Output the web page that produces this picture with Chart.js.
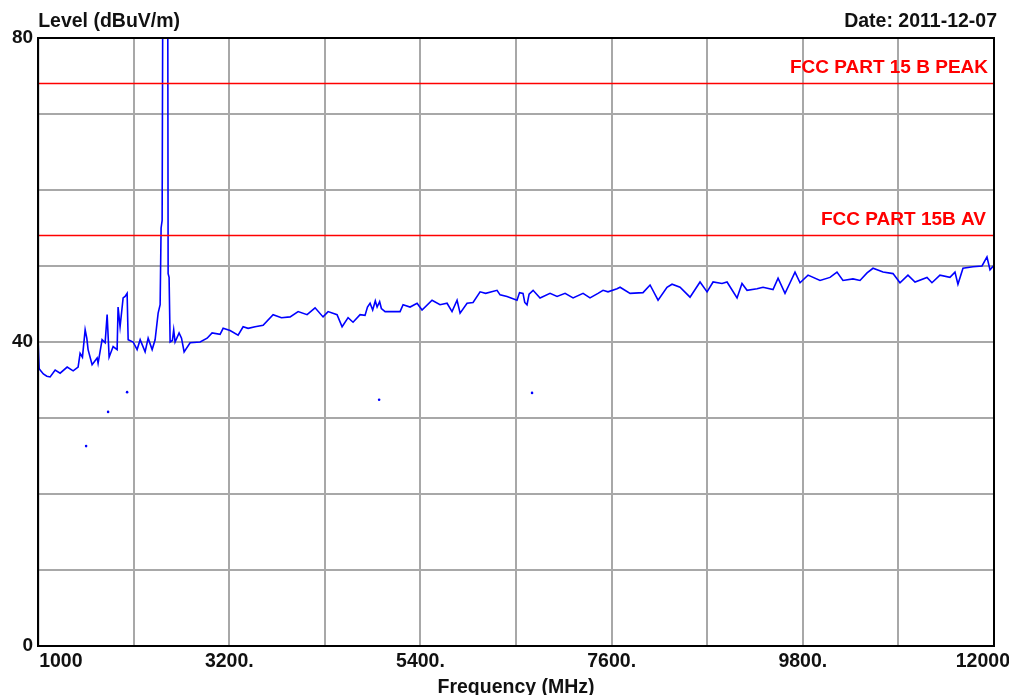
<!DOCTYPE html>
<html>
<head>
<meta charset="utf-8">
<script src="https://cdn.jsdelivr.net/npm/chart.js@4"></script>
<style>
	body { margin: 0; background: #fff; }
	#wrap { width: 1009px; height: 695px; }
</style>
</head>
<body>
<div id="wrap"><canvas id="emiChart" width="1009" height="695"></canvas></div>
<script>
// trace: frequency (MHz) and level (dBuV/m)
const freqMHz = [
	1000, 1012, 1023, 1060, 1100, 1138, 1196, 1253, 1334, 1403, 1460, 1483, 1510, 1541, 1560, 1575,
	1621, 1679, 1690, 1736, 1771, 1794, 1817, 1863, 1909, 1920, 1943, 1978, 2001, 2024, 2036, 2093,
	2139, 2174, 2231, 2266, 2312, 2346, 2381, 2404, 2415, 2427, 2438, 2490, 2496, 2507, 2519, 2545,
	2560, 2576, 2622, 2650, 2680, 2749, 2864, 2945, 3002, 3094, 3129, 3209, 3301, 3359, 3416, 3497,
	3589, 3704, 3800, 3900, 3992, 4095, 4187, 4279, 4337, 4440, 4498, 4567, 4624, 4705, 4762, 4790,
	4820, 4850, 4880, 4901, 4930, 4950, 4993, 5050, 5165, 5200, 5280, 5361, 5418, 5533, 5625, 5706,
	5763, 5821, 5856, 5936, 6005, 6086, 6150, 6281, 6316, 6396, 6511, 6540, 6580, 6600, 6626, 6650,
	6696, 6776, 6891, 6972, 7064, 7156, 7271, 7351, 7443, 7501, 7558, 7662, 7697, 7812, 7961, 8042,
	8134, 8237, 8295, 8387, 8502, 8617, 8698, 8767, 8870, 8928, 9043, 9100, 9158, 9273, 9342, 9457,
	9515, 9595, 9653, 9710, 9768, 9860, 9998, 10113, 10193, 10262, 10377, 10458, 10539, 10608, 10723, 10838,
	10918, 11010, 11091, 11229, 11286, 11378, 11493, 11551, 11585, 11643, 11758, 11862, 11919, 11954, 12000
];
const levelDb = [
	40.0, 36.5, 36.3, 35.8, 35.5, 35.4, 36.3, 35.9, 36.7, 36.2, 36.7, 38.5, 38.0, 41.6, 40.5, 39.0,
	37.0, 37.9, 37.2, 40.3, 39.9, 43.6, 38.0, 39.4, 39.0, 44.6, 42.0, 45.8, 46.0, 46.4, 40.3, 40.0,
	39.0, 40.3, 38.7, 40.5, 39.0, 40.3, 43.8, 44.9, 55.0, 56.0, 100, 100, 49.0, 48.5, 40.0, 40.2,
	41.6, 40.0, 41.2, 40.5, 38.7, 39.9, 40.0, 40.5, 41.2, 41.0, 41.8, 41.5, 40.9, 42.0, 41.8, 42.0,
	42.2, 43.6, 43.2, 43.3, 44.0, 43.6, 44.5, 43.3, 44.0, 43.6, 42.0, 43.2, 42.6, 43.6, 43.5, 44.6,
	45.1, 44.2, 45.4, 44.6, 45.3, 44.4, 44.0, 44.0, 44.0, 44.9, 44.6, 45.1, 44.2, 45.5, 44.9, 45.1,
	44.0, 45.5, 43.8, 45.1, 45.2, 46.6, 46.4, 46.8, 46.2, 46.0, 45.5, 46.5, 46.4, 45.2, 44.9, 46.3,
	46.8, 45.8, 46.4, 46.0, 46.4, 45.8, 46.4, 45.8, 46.4, 46.8, 46.6, 47.0, 47.2, 46.4, 46.5, 47.5,
	45.5, 47.2, 47.6, 47.2, 45.9, 47.9, 46.6, 47.9, 47.7, 47.9, 45.8, 47.7, 46.8, 47.0, 47.2, 46.9,
	48.4, 46.4, 47.8, 49.2, 47.8, 48.8, 48.1, 48.5, 49.2, 48.1, 48.3, 48.1, 49.1, 49.7, 49.2, 49.0,
	47.8, 48.8, 47.9, 48.5, 47.8, 48.8, 48.5, 49.2, 47.6, 49.7, 49.9, 50.0, 51.2, 49.5, 50.1
];

// isolated average readings
const avgFreqMHz = [1552, 1805, 2024, 4924, 6684];
const avgLevelDb = [26.3, 30.8, 33.4, 32.4, 33.3];

// limit lines
const limitFreqMHz = [1000, 12000];
const peakLimitDb = 74;
const avgLimitDb = 54;
const peakLimitLabel = 'FCC PART 15 B PEAK';
const avgLimitLabel = 'FCC PART 15B AV';

const xTickValues = [1000, 3200, 5400, 7600, 9800, 12000];
const xTickLabels = ['1000', '3200.', '5400.', '7600.', '9800.', '12000'];
const yTickValues = [0, 40, 80];

const yTitle = 'Level (dBuV/m)';
const xTitle = 'Frequency (MHz)';
const dateText = 'Date: 2011-12-07';

const FONT = 'bold 19.5px "Liberation Sans", Arial, sans-serif';
const RED_FONT = 'bold 19px "Liberation Sans", Arial, sans-serif';

const toPoints = (xs, ys) => xs.map((x, i) => ({ x: x, y: ys[i] }));

const textPlugin = {
	id: 'textPlugin',
	afterDraw: (chart) => {
		const ctx = chart.ctx;
		const area = chart.chartArea;
		const xs = chart.scales.x;
		const ys = chart.scales.y;

		ctx.save();
		// frame
		ctx.strokeStyle = '#000';
		ctx.lineWidth = 2;
		ctx.strokeRect(area.left, area.top, area.right - area.left, area.bottom - area.top);

		ctx.font = FONT;
		ctx.fillStyle = '#111';
		ctx.textBaseline = 'top';

		// x tick labels, first and last kept inside
		xTickValues.forEach((v, i) => {
			const px = xs.getPixelForValue(v);
			if (i === 0) {
				ctx.textAlign = 'left';
				ctx.fillText(xTickLabels[i], px + 1, area.bottom + 6);
			} else if (i === xTickValues.length - 1) {
				ctx.textAlign = 'right';
				ctx.fillText(xTickLabels[i], chart.width + 1, area.bottom + 6);
			} else {
				ctx.textAlign = 'center';
				ctx.fillText(xTickLabels[i], px, area.bottom + 6);
			}
		});

		ctx.textAlign = 'center';
		ctx.fillText(xTitle, (area.left + area.right) / 2, area.bottom + 32);

		ctx.textBaseline = 'bottom';
		ctx.textAlign = 'left';
		ctx.fillText(yTitle, area.left, area.top - 7);
		ctx.textAlign = 'right';
		ctx.fillText(dateText, area.right + 3, area.top - 7);

		// limit line captions
		ctx.font = RED_FONT;
		ctx.fillStyle = '#ff0000';
		ctx.fillText(peakLimitLabel, area.right - 6, ys.getPixelForValue(peakLimitDb) - 6);
		ctx.fillText(avgLimitLabel, area.right - 8, ys.getPixelForValue(avgLimitDb) - 6);
		ctx.restore();
	}
};

new Chart(document.getElementById('emiChart'), {
	type: 'line',
	data: {
		datasets: [
			{
				label: 'Peak limit',
				data: toPoints(limitFreqMHz, [peakLimitDb, peakLimitDb]),
				borderColor: '#ff0000',
				borderWidth: 1.5,
				pointRadius: 0
			},
			{
				label: 'Average limit',
				data: toPoints(limitFreqMHz, [avgLimitDb, avgLimitDb]),
				borderColor: '#ff0000',
				borderWidth: 1.5,
				pointRadius: 0
			},
			{
				label: 'Level',
				data: toPoints(freqMHz, levelDb),
				borderColor: '#0000ff',
				borderWidth: 1.6,
				pointRadius: 0,
				tension: 0
			},
			{
				label: 'Average',
				data: toPoints(avgFreqMHz, avgLevelDb),
				showLine: false,
				pointRadius: 1.3,
				pointBorderWidth: 0,
				pointBackgroundColor: '#0000ff',
				borderColor: '#0000ff'
			}
		]
	},
	options: {
		responsive: false,
		animation: false,
		layout: { padding: { left: 7, top: 38, right: 15, bottom: 49 } },
		plugins: {
			legend: { display: false },
			tooltip: { enabled: false }
		},
		scales: {
			x: {
				type: 'linear',
				min: 1000,
				max: 12000,
				ticks: { stepSize: 1100, display: false },
				grid: { color: '#a8a8a8', lineWidth: 2, drawTicks: false },
				border: { color: '#000', width: 2 }
			},
			y: {
				min: 0,
				max: 80,
				ticks: {
					stepSize: 10,
					padding: 5,
					color: '#111',
					font: { family: '"Liberation Sans", Arial, sans-serif', size: 19, weight: 'bold' },
					callback: (v) => (yTickValues.includes(v) ? String(v) : '')
				},
				grid: { color: '#a8a8a8', lineWidth: 2, drawTicks: false },
				border: { color: '#000', width: 2 }
			}
		}
	},
	plugins: [textPlugin]
});
</script>
</body>
</html>
